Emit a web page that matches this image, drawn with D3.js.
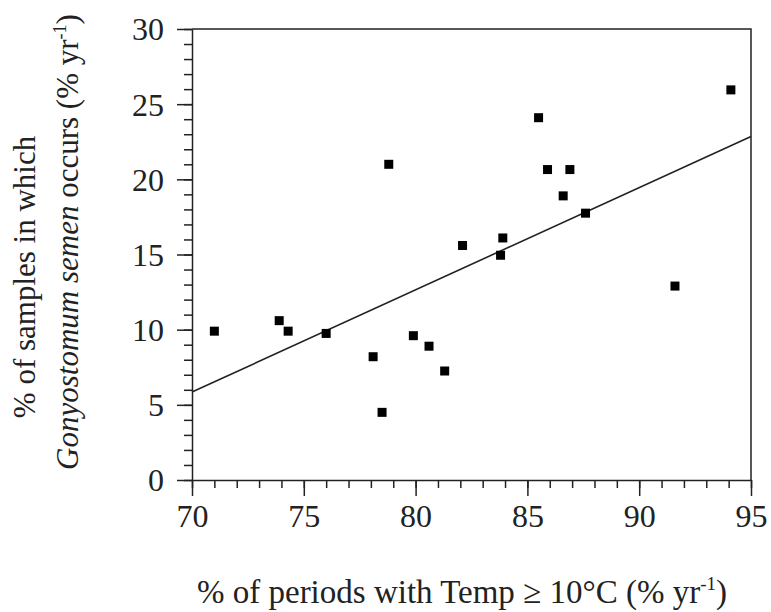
<!DOCTYPE html>
<html>
<head>
    <meta charset="utf-8">
    <title>Gonyostomum semen vs temperature</title>
    <style>
        body { margin: 0; background: #fff; }
        svg { display: block; font-family: "Liberation Serif", "Times New Roman", serif; }
        .axis path, .axis line { stroke: #222; stroke-width: 1.5px; }
        .axis text { font-family: "Liberation Serif", "Times New Roman", serif; font-size: 32px; fill: #222; }
        .frame { fill: none; stroke: #222; stroke-width: 1.5px; }
        .fit { fill: none; stroke: #222; stroke-width: 1.6px; }
        .pt { fill: #000; }
        .title { font-size: 31px; fill: #222; }
        .title.xt { font-size: 33px; }
    </style>
</head>
<body>
    <svg width="771" height="612"></svg>

    <script src="https://d3js.org/d3.v7.min.js"></script>
    <script>
        // % of periods with Temp >= 10 C
        const tempPct = [71.0, 73.9, 74.3, 76.0, 78.1, 78.5, 79.9, 80.6, 81.3, 78.8,
                         82.1, 83.9, 83.8, 85.5, 85.9, 86.9, 86.6, 87.6, 91.6, 94.1];
        // % of samples in which G. semen occurs
        const occurPct = [9.9, 10.6, 9.9, 9.75, 8.2, 4.5, 9.6, 8.9, 7.25, 21.0,
                          15.6, 16.1, 14.95, 24.1, 20.65, 20.65, 18.9, 17.75, 12.9, 25.95];
        // fitted line, read at its two ends
        const fitX = [70, 95];
        const fitY = [5.85, 22.85];

        const xTicks = [70, 75, 80, 85, 90, 95];
        const yTicks = [0, 5, 10, 15, 20, 25, 30];

        const margin = { top: 29, right: 20, bottom: 132, left: 192 };
        const width = 771, height = 612;
        const svg = d3.select("svg");

        const x = d3.scaleLinear().domain([70, 95]).range([margin.left, width - margin.right]);
        const y = d3.scaleLinear().domain([0, 30]).range([height - margin.bottom, margin.top]);

        // minor ticks first, then major ones with labels
        svg.append("g").attr("class", "axis")
            .attr("transform", `translate(0,${y(0)})`)
            .call(d3.axisBottom(x).ticks(25).tickSize(8).tickFormat(""))
            .select(".domain").remove();
        svg.append("g").attr("class", "axis")
            .attr("transform", `translate(${x(70)},0)`)
            .call(d3.axisLeft(y).ticks(30).tickSize(8).tickFormat(""))
            .select(".domain").remove();

        const xAxis = svg.append("g").attr("class", "axis")
            .attr("transform", `translate(0,${y(0)})`)
            .call(d3.axisBottom(x).tickValues(xTicks).tickSize(16).tickSizeOuter(0).tickPadding(8));
        const yAxis = svg.append("g").attr("class", "axis")
            .attr("transform", `translate(${x(70)},0)`)
            .call(d3.axisLeft(y).tickValues(yTicks).tickSize(15).tickSizeOuter(0).tickPadding(13));
        xAxis.selectAll("text").attr("dy", "0.71em");
        yAxis.selectAll("text").attr("dy", "0.34em");

        // top and right sides of the box
        svg.append("path").attr("class", "frame")
            .attr("d", `M${x(70)},${y(30)}H${x(95)}V${y(0)}`);

        const line = d3.line().x(d => x(d[0])).y(d => y(d[1]));
        svg.append("path").attr("class", "fit")
            .attr("d", line(d3.zip(fitX, fitY)));

        const s = 9;
        svg.append("g").selectAll("rect")
            .data(d3.zip(tempPct, occurPct))
            .enter().append("rect")
            .attr("class", "pt")
            .attr("x", d => x(d[0]) - s / 2)
            .attr("y", d => y(d[1]) - s / 2)
            .attr("width", s)
            .attr("height", s);

        // x title
        const xt = svg.append("text").attr("class", "title xt")
            .attr("x", 462).attr("y", 603)
            .attr("text-anchor", "middle");
        xt.append("tspan").text("% of periods with Temp \u2265 10\u00B0C (% yr");
        xt.append("tspan").attr("font-size", "19px").attr("dy", -13).text("-1");
        xt.append("tspan").attr("dy", 13).text(")");

        // y title, two lines
        svg.append("text").attr("class", "title")
            .attr("transform", "translate(35,277) rotate(-90)")
            .attr("text-anchor", "middle")
            .text("% of samples in which");
        const y2 = svg.append("text").attr("class", "title")
            .attr("transform", "translate(78,242) rotate(-90)")
            .attr("text-anchor", "middle");
        y2.append("tspan").attr("font-style", "italic").text("Gonyostomum semen");
        y2.append("tspan").text(" occurs (% yr");
        y2.append("tspan").attr("font-size", "18px").attr("dy", -12).text("-1");
        y2.append("tspan").attr("dy", 12).text(")");
    </script>
</body>
</html>
